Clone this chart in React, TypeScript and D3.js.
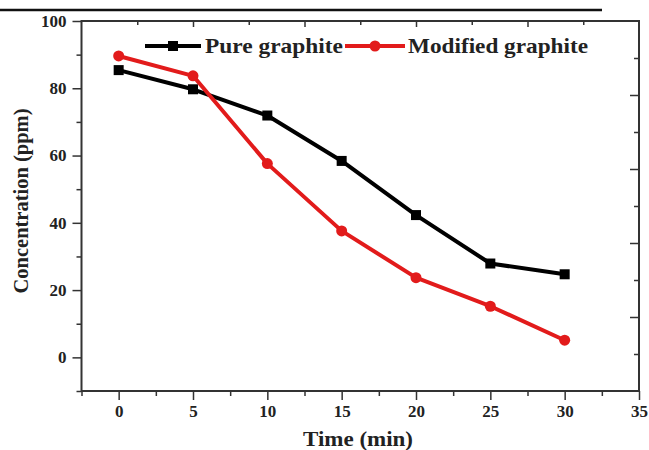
import React, { useEffect, useRef } from 'react';
import * as d3 from 'd3';

const times = [0, 5, 10, 15, 20, 25, 30];
const pureGraphite = [85.4, 79.7, 71.9, 58.4, 42.3, 27.9, 24.7];
const modifiedGraphite = [89.6, 83.7, 57.6, 37.6, 23.7, 15.2, 5.1];
const seriesNames = ['Pure graphite', 'Modified graphite'];
const xTicks = [0, 5, 10, 15, 20, 25, 30, 35];
const yTicks = [0, 20, 40, 60, 80, 100];

const FONT = "'Liberation Serif', Tinos, 'Times New Roman', Times, serif";

export default function App() {
  const ref = useRef<SVGSVGElement | null>(null);

  useEffect(() => {
    const svg = d3.select(ref.current);
    svg.selectAll('*').remove();

    const left = 81.5, right = 639, top = 21, bottom = 391;

    const x = d3.scaleLinear().domain([-2.5, 35]).range([left, right]);
    const y = d3.scaleLinear().domain([-10, 100]).range([bottom, top]);
    // mirror axes on top / right have their own 10-step division
    const xTop = d3.scaleLinear().domain([0, 10]).range([left, right]);
    const yRight = d3.scaleLinear().domain([0, 10]).range([bottom, top]);

    // rule left over from the page above the figure
    svg.append('line')
      .attr('x1', 0).attr('x2', 602).attr('y1', 10).attr('y2', 10)
      .attr('stroke', '#111').attr('stroke-width', 2.5);

    const styleAxis = (g: any) => {
      g.select('.domain').remove();
      g.selectAll('line').attr('stroke', '#333').attr('stroke-width', 1.5);
      g.selectAll('text')
        .style('font-family', FONT)
        .style('font-weight', 'bold')
        .style('font-size', '17px')
        .attr('fill', '#222');
    };

    // bottom axis
    svg.append('g')
      .attr('transform', 'translate(0,' + bottom + ')')
      .call(d3.axisBottom(x).tickValues(d3.range(-2.5, 35, 5)).tickSize(5).tickFormat(() => ''))
      .call(styleAxis);
    svg.append('g')
      .attr('transform', 'translate(0,' + bottom + ')')
      .call(d3.axisBottom(x).tickValues(xTicks).tickSize(9).tickPadding(5).tickFormat(d3.format('d')))
      .call(styleAxis);

    // left axis
    svg.append('g')
      .attr('transform', 'translate(' + left + ',0)')
      .call(d3.axisLeft(y).tickValues(d3.range(-10, 100, 20)).tickSize(5).tickFormat(() => ''))
      .call(styleAxis);
    svg.append('g')
      .attr('transform', 'translate(' + left + ',0)')
      .call(d3.axisLeft(y).tickValues(yTicks).tickSize(9).tickPadding(6).tickFormat(d3.format('d')))
      .call(styleAxis);

    // top axis (ticks inward)
    svg.append('g')
      .attr('transform', 'translate(0,' + top + ')')
      .call(d3.axisBottom(xTop).tickValues(d3.range(1, 10)).tickSizeInner(0).tickFormat(() => ''))
      .call(styleAxis)
      .selectAll('.tick line')
      .attr('y2', (d: any) => (d % 2 === 0 ? 6 : 4));

    // right axis (ticks inward)
    svg.append('g')
      .attr('transform', 'translate(' + right + ',0)')
      .call(d3.axisLeft(yRight).tickValues(d3.range(1, 10)).tickSizeInner(0).tickFormat(() => ''))
      .call(styleAxis)
      .selectAll('.tick line')
      .attr('x2', (d: any) => (d % 2 === 0 ? -9 : -5));

    // frame
    svg.append('rect')
      .attr('x', left).attr('y', top)
      .attr('width', right - left).attr('height', bottom - top)
      .attr('fill', 'none').attr('stroke', '#333').attr('stroke-width', 2);

    // axis titles
    svg.append('text')
      .attr('x', 358).attr('y', 446)
      .attr('text-anchor', 'middle')
      .style('font-family', FONT).style('font-weight', 'bold').style('font-size', '22px')
      .attr('textLength', 110).attr('lengthAdjust', 'spacingAndGlyphs')
      .attr('fill', '#222')
      .text('Time (min)');
    svg.append('text')
      .attr('transform', 'translate(28,201) rotate(-90)')
      .attr('text-anchor', 'middle')
      .style('font-family', FONT).style('font-weight', 'bold').style('font-size', '21px')
      .attr('textLength', 185).attr('lengthAdjust', 'spacingAndGlyphs')
      .attr('fill', '#222')
      .text('Concentration (ppm)');

    const series = [
      { name: seriesNames[0], values: pureGraphite, color: '#000000', shape: 'square' },
      { name: seriesNames[1], values: modifiedGraphite, color: '#e21b1b', shape: 'circle' },
    ];

    const line = d3.line<number>()
      .x((d, i) => x(times[i]))
      .y(d => y(d));

    series.forEach(s => {
      svg.append('path')
        .datum(s.values)
        .attr('fill', 'none')
        .attr('stroke', s.color)
        .attr('stroke-width', 4)
        .attr('stroke-linejoin', 'round')
        .attr('d', line);

      const pts = svg.append('g');
      if (s.shape === 'square') {
        pts.selectAll('rect')
          .data(s.values)
          .enter().append('rect')
          .attr('x', (d, i) => x(times[i]) - 5)
          .attr('y', d => y(d) - 5)
          .attr('width', 10).attr('height', 10)
          .attr('fill', s.color);
      } else {
        pts.selectAll('circle')
          .data(s.values)
          .enter().append('circle')
          .attr('cx', (d, i) => x(times[i]))
          .attr('cy', d => y(d))
          .attr('r', 5.5)
          .attr('fill', s.color);
      }
    });

    // legend
    const legend = [
      { x0: 145, x1: 201, tx: 205, color: '#000000', shape: 'square', name: seriesNames[0], len: 138 },
      { x0: 345, x1: 405, tx: 408, color: '#e21b1b', shape: 'circle', name: seriesNames[1], len: 180 },
    ];
    const ly = 46;
    legend.forEach(l => {
      svg.append('line')
        .attr('x1', l.x0).attr('x2', l.x1).attr('y1', ly).attr('y2', ly)
        .attr('stroke', l.color).attr('stroke-width', 4);
      const mx = (l.x0 + l.x1) / 2;
      if (l.shape === 'square') {
        svg.append('rect').attr('x', mx - 5).attr('y', ly - 5).attr('width', 10).attr('height', 10).attr('fill', l.color);
      } else {
        svg.append('circle').attr('cx', mx).attr('cy', ly).attr('r', 5.5).attr('fill', l.color);
      }
      svg.append('text')
        .attr('x', l.tx).attr('y', ly + 7)
        .style('font-family', FONT).style('font-weight', 'bold').style('font-size', '21px')
        .attr('textLength', l.len).attr('lengthAdjust', 'spacingAndGlyphs')
        .attr('fill', '#222')
        .text(l.name);
    });
  }, []);

  return (
    <svg
      ref={ref}
      width={649}
      height={450}
      style={{ position: 'absolute', left: 0, top: 0, background: '#fff' }}
    />
  );
}
